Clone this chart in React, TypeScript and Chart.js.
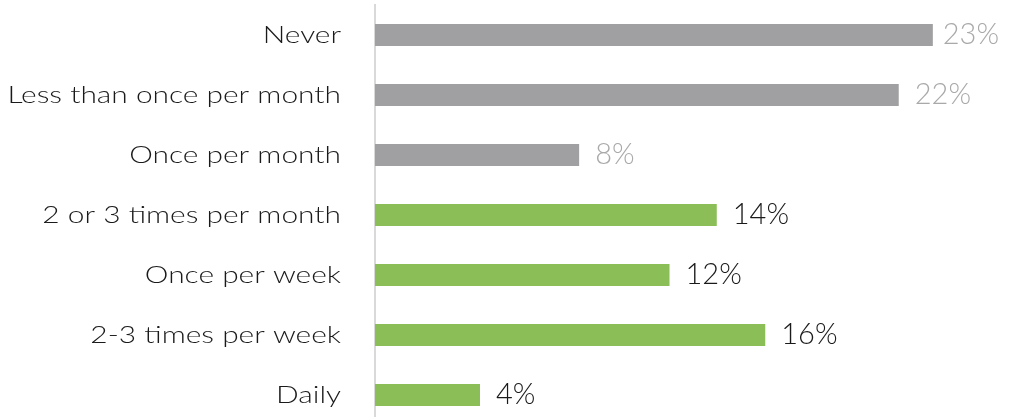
import React, { useEffect, useRef } from "react";
import { Chart, registerables } from "chart.js";

Chart.register(...registerables);

const categories = [
  "Never",
  "Less than once per month",
  "Once per month",
  "2 or 3 times per month",
  "Once per week",
  "2-3 times per week",
  "Daily",
];
const values = [22.9, 21.5, 8.38, 14.03, 12.09, 16.02, 4.31];
const isInfrequent = [true, true, true, false, false, false, false];

const GRAY_BAR = "#a0a0a2";
const GREEN_BAR = "#8bbe56";
const GRAY_TEXT = "#a9a9a9";
const DARK_TEXT = "#1a1a1a";
const FONT = "Lato";

// Category labels, drawn with a slightly widened Lato Light to imitate the wide geometric face
const categoryLabelPlugin = {
  id: "categoryLabels",
  afterDraw(chart: any) {
    const ctx = chart.ctx;
    const yScale = chart.scales.y;
    const right = chart.chartArea.left - 34;
    ctx.save();
    ctx.font = `300 23px ${FONT}`;
    ctx.fillStyle = DARK_TEXT;
    ctx.textAlign = "right";
    ctx.textBaseline = "middle";
    categories.forEach((label, i) => {
      const y = yScale.getPixelForValue(i);
      ctx.save();
      ctx.translate(right, y + 1);
      ctx.scale(1.3, 1);
      ctx.fillText(label, 0, 0);
      ctx.restore();
    });
    ctx.restore();
  },
};

const valueLabelPlugin = {
  id: "valueLabels",
  afterDatasetsDraw(chart: any) {
    const ctx = chart.ctx;
    const meta = chart.getDatasetMeta(0);
    ctx.save();
    ctx.font = `300 29px ${FONT}`;
    ctx.textBaseline = "middle";
    ctx.textAlign = "left";
    meta.data.forEach((bar: any, i: number) => {
      const text = `${Math.round(values[i])}%`;
      const w = ctx.measureText(text).width;
      let x = bar.x + 16;
      if (x + w > chart.width - 12) x = chart.width - 12 - w;
      ctx.fillStyle = isInfrequent[i] ? GRAY_TEXT : DARK_TEXT;
      ctx.fillText(text, x, bar.y);
    });
    ctx.restore();
  },
};

export default function App() {
  const ref = useRef<HTMLCanvasElement | null>(null);
  useEffect(() => {
    if (!ref.current) return;
    const chart = new Chart(ref.current, {
      type: "bar",
      data: {
        labels: categories,
        datasets: [
          {
            data: values,
            backgroundColor: isInfrequent.map((g) => (g ? GRAY_BAR : GREEN_BAR)),
            borderWidth: 0,
            categoryPercentage: 1,
            barPercentage: 22 / 60,
          },
        ],
      },
      options: {
        indexAxis: "y",
        animation: false,
        responsive: true,
        maintainAspectRatio: false,
        layout: { padding: { top: 5, bottom: 5, left: 0, right: 27 } },
        plugins: { legend: { display: false }, tooltip: { enabled: false } },
        scales: {
          x: { display: false, min: 0, max: 25 },
          y: {
            afterFit: (s: any) => {
              s.width = 375;
              s.paddingTop = 0;
              s.paddingBottom = 0;
            },
            grid: { display: false, drawTicks: false },
            border: { display: true, color: "#d9d9d9", width: 2 },
            ticks: { display: false },
          },
        },
      },
      plugins: [valueLabelPlugin, categoryLabelPlugin],
    });
    return () => chart.destroy();
  }, []);
  return (
    <div
      style={{
        position: "absolute",
        left: 0,
        top: 0,
        width: 1011,
        height: 417,
        overflow: "hidden",
        background: "#ffffff",
      }}
    >
      <div style={{ position: "relative", width: 1011, height: 430 }}>
        <canvas ref={ref} />
      </div>
    </div>
  );
}
